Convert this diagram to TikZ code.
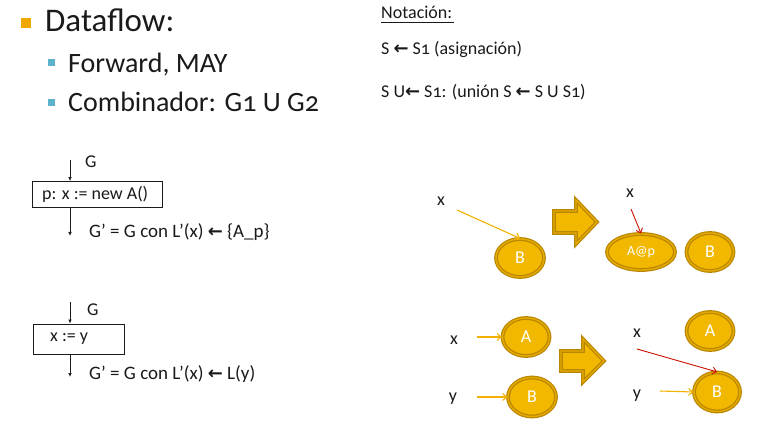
\documentclass[tikz,border=0pt]{standalone}
\usepackage{fontspec}
\setmainfont[Numbers=OldStyle]{Carlito}
\newfontfamily\symf{DejaVu Sans Bold}
\usetikzlibrary{arrows.meta,shapes.geometric}
\definecolor{txt}{HTML}{1A1A1A}
\definecolor{gold}{HTML}{F2B800}
\definecolor{golddark}{HTML}{B88600}
\definecolor{goldmid}{HTML}{E4AA00}
\definecolor{bulorange}{HTML}{F0A800}
\definecolor{bulblue}{HTML}{5BB4CC}
\definecolor{redarrow}{HTML}{CC1100}
\newcommand{\lar}{{\symf\fontsize{18}{18}\selectfont ←}}
\tikzset{
  big/.style={font=\fontsize{33}{33}\selectfont, text=txt, anchor=base west, inner sep=0},
  mid/.style={font=\fontsize{28}{28}\selectfont, text=txt, anchor=base west, inner sep=0},
  small/.style={font=\fontsize{18}{18}\selectfont, text=txt, anchor=base west, inner sep=0},
  lbl/.style={font=\fontsize{18}{18}\selectfont, text=txt, inner sep=0},
  res/.style={font=\fontsize{19}{19}\selectfont, text=txt, inner sep=0, anchor=base west},
  stmt/.style={draw=txt, line width=0.8pt, inner sep=0},
  flow/.style={draw=txt, line width=0.7pt, -{Latex[length=4pt,width=3.5pt]}},
  obj/.style={ellipse, fill=gold, draw=golddark, double=goldmid, double distance=1.4pt, line width=1.2pt,
     text=white, font=\fontsize{18}{18}\selectfont, inner sep=0},
  bigarrow/.style={fill=gold, draw=golddark, double=goldmid, double distance=1.3pt, line width=1.2pt, line join=miter},
  ptr/.style={draw=gold!90!orange, line width=1.1pt, -{Straight Barb[length=4pt,width=7pt]}},
  redptr/.style={draw=redarrow, line width=0.9pt, -{Straight Barb[length=4pt,width=7pt]}},
}
\begin{document}
\begin{tikzpicture}[x=1pt,y=-1pt]
\useasboundingbox (0,0) rectangle (767,427);
% bullets and titles
\fill[bulorange] (21,18) rectangle (31,28);
\node[big] (t1) at (45,32) {Dataflow:};
\fill[bulblue] (48,59) rectangle (55,66);
\node[mid] (t2) at (68,73) {Forward, MAY};
\fill[bulblue] (48,99) rectangle (55,106);
\node[mid] (t3) at (68,112) {Combinador: G1 U G2};
% notation
\node[small] (n0) at (381,19) {Notación:};
\draw[txt, line width=0.7pt] (381,22) -- (454,22);
\node[small] (n1) at (381,55) {S \lar{} S1 (asignación)};
\node[small] (n2) at (381,98) {S U\lar{} S1: (unión S \lar{} S U S1)};
% diagram 1
\node[stmt, minimum width=130pt, minimum height=26pt] (b1) at (97.5,194.5) {};
\node[lbl, anchor=west] (b1t) at (42,194.5) {p: x := new A()};
\coordinate (b1in) at (70,160);
\coordinate (b1out) at (70,236);
\draw[flow] (b1in) -- (b1in |- b1.north);
\draw[flow] (b1in |- b1.south) -- (b1out);
\node[lbl, anchor=base west] (g1) at (85,168) {G};
\node[res] (g1p) at (89,238) {G’ = G con L’(x) \lar{} \{A\_p\}};
% diagram 2
\node[stmt, minimum width=91pt, minimum height=30pt] (b2) at (78.5,339) {};
\node[lbl, anchor=west] (b2t) at (50,339) {x := y};
\coordinate (b2in) at (70,302);
\coordinate (b2out) at (70,377);
\draw[flow] (b2in) -- (b2in |- b2.north);
\draw[flow] (b2in |- b2.south) -- (b2out);
\node[lbl, anchor=base west] (g2) at (87,315) {G};
\node[res] (g2p) at (89,379) {G’ = G con L’(x) \lar{} L(y)};
% right top
\node[lbl] (x1) at (441,201) {x};
\coordinate (x1s) at (457,210);
\node[obj, minimum width=48pt, minimum height=38pt] (B1) at (520,258) {B};
\draw[ptr] (x1s) -- (B1.north);
\draw[bigarrow] (554,211) -- (576,211) -- (576,200) -- (597,222) -- (576,244) -- (576,233) -- (554,233) -- cycle;
\node[lbl] (x2) at (630,193) {x};
\coordinate (x2s) at (631,209);
\node[obj, minimum width=68pt, minimum height=36pt, font=\fontsize{14}{14}\selectfont] (Ap) at (641,252) {A@p};
\node[obj, minimum width=47pt, minimum height=38pt] (B2) at (710,252) {B};
\draw[redptr] (x2s) -- (Ap.north);
% right bottom
\node[lbl] (x3) at (454,340) {x};
\coordinate (x3s) at (477,337);
\node[obj, minimum width=47pt, minimum height=38pt] (A3) at (526,337) {A};
\draw[ptr] (x3s) -- (A3.west);
\node[lbl] (y3) at (453,399) {y};
\coordinate (y3s) at (477,397);
\node[obj, minimum width=48pt, minimum height=39pt] (B3) at (532,397) {B};
\draw[ptr] (y3s) -- (B3.west);
\draw[bigarrow] (561,351) -- (583,351) -- (583,339) -- (604,361) -- (583,382) -- (583,371) -- (561,371) -- cycle;
\node[lbl] (x4) at (637,333) {x};
\coordinate (x4s) at (637,349);
\node[obj, minimum width=47pt, minimum height=38pt] (A4) at (710,331) {A};
\node[lbl] (y4) at (637,396) {y};
\coordinate (y4s) at (660,391);
\node[obj, minimum width=46pt, minimum height=39pt] (B4) at (717,392) {B};
\draw[ptr] (y4s) -- (B4.west);
\draw[redptr] (x4s) -- (B4.north);
\end{tikzpicture}
\end{document}
